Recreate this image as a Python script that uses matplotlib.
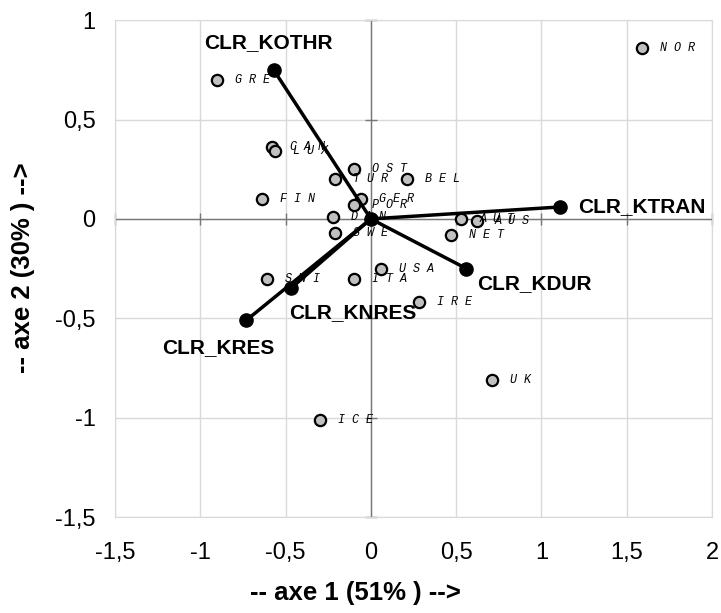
import matplotlib
matplotlib.use("Agg")
import matplotlib.pyplot as plt
import numpy as np

# country scores on the first two axes
countries = ["NOR", "GRE", "CAN", "LUX", "OST", "TUR", "BEL", "FIN", "GER", "POR",
             "DAN", "SWE", "AUT", "AUS", "NET", "SWI", "ITA", "USA", "IRE", "UK", "ICE"]
ax1_vals = [1.59, -0.90, -0.58, -0.56, -0.10, -0.21, 0.21, -0.64, -0.06, -0.10,
            -0.22, -0.21, 0.53, 0.62, 0.47, -0.61, -0.10, 0.06, 0.28, 0.71, -0.30]
ax2_vals = [0.86, 0.70, 0.36, 0.34, 0.25, 0.20, 0.20, 0.10, 0.10, 0.07,
            0.01, -0.07, 0.00, -0.01, -0.08, -0.30, -0.30, -0.25, -0.42, -0.81, -1.01]

# variable vectors
variables = ["CLR_KOTHR", "CLR_KTRAN", "CLR_KDUR", "CLR_KNRES", "CLR_KRES"]
var_x = [-0.57, 1.11, 0.56, -0.47, -0.73]
var_y = [0.75, 0.06, -0.25, -0.35, -0.51]

ticks = [-1.5, -1, -0.5, 0, 0.5, 1, 1.5, 2]
yticks = [-1.5, -1, -0.5, 0, 0.5, 1]


def fmt(v):
    return ("%g" % v).replace(".", ",")


plt.rcParams['font.family'] = ['Liberation Sans', 'DejaVu Sans']

fig = plt.figure(figsize=(7.21, 6.13), dpi=100)
ax = fig.add_axes([0.1595, 0.1566, 0.828, 0.8105])

ax.set_xlim(-1.5, 2)
ax.set_ylim(-1.5, 1)
ax.set_xticks(ticks)
ax.set_yticks(yticks)
ax.set_xticklabels([fmt(t) for t in ticks], fontsize=17)
ax.set_yticklabels([fmt(t) for t in yticks], fontsize=17)
ax.tick_params(axis='both', length=0)
ax.tick_params(axis='x', pad=18)
ax.tick_params(axis='y', pad=14)
ax.grid(True, color='#d9d9d9', linewidth=1)
ax.set_axisbelow(True)
for s in ax.spines.values():
    s.set_color('#d9d9d9')

# zero axes with small tick marks
ax.axhline(0, color='#777777', linewidth=1, zorder=1)
ax.axvline(0, color='#777777', linewidth=1, zorder=1)
ax.plot(ticks, [0] * len(ticks), linestyle='none', marker='|', markersize=8,
        color='#777777', zorder=1, clip_on=False)
ax.plot([0] * len(yticks), yticks, linestyle='none', marker='_', markersize=8,
        color='#777777', zorder=1, clip_on=False)

# vectors
for name, vx, vy in zip(variables, var_x, var_y):
    ax.plot([0, vx], [0, vy], color='black', linewidth=2.5, zorder=3)
ax.plot(var_x, var_y, 'o', color='black', markersize=9.5, zorder=4)
ax.plot([0], [0], 'o', color='black', markersize=9.5, zorder=4)

var_offsets = {
    "CLR_KOTHR": (-4, 20, 'center'),
    "CLR_KTRAN": (13, 0, 'left'),
    "CLR_KDUR": (8, -11, 'left'),
    "CLR_KNRES": (-1, -17, 'left'),
    "CLR_KRES": (-20, -20, 'center'),
}
for name, vx, vy in zip(variables, var_x, var_y):
    dx, dy, ha = var_offsets[name]
    ax.annotate(name, (vx, vy), xytext=(dx, dy), textcoords='offset points',
                ha=ha, va='center', fontsize=15, fontweight='bold', zorder=5)

# countries
ax.scatter(ax1_vals, ax2_vals, s=66, facecolor='#c0c0c0', edgecolor='black',
           linewidth=1.6, zorder=2)
for name, x, y in zip(countries, ax1_vals, ax2_vals):
    ax.annotate(" ".join(name), (x, y), xytext=(13, 0), textcoords='offset points',
                ha='left', va='center', fontsize=8.5, style='italic',
                family=['Liberation Mono', 'DejaVu Sans Mono'], zorder=2)

fig.text(355 / 721, 1 - 593 / 613, "-- axe 1 (51% ) -->", fontsize=18.5,
         fontweight='bold', ha='center', va='center')
fig.text(23 / 721, 1 - 268 / 613, "-- axe 2 (30% ) -->", fontsize=18.5,
         fontweight='bold', ha='center', va='center', rotation=90)

fig.savefig("out.png", dpi=100)
